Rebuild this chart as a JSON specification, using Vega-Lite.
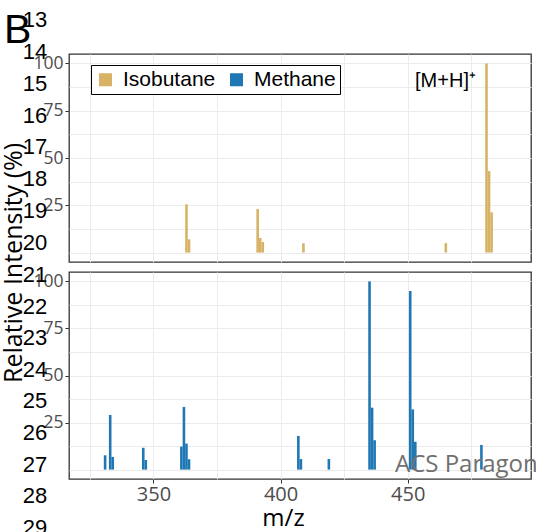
{
  "$schema": "https://vega.github.io/schema/vega-lite/v6.json",
  "autosize": "none",
  "padding": {"left": 69, "top": 54, "right": 467, "bottom": 478},
  "background": "white",
  "bounds": "flush",
  "spacing": 10,
  "datasets": {
    "spectra": [
      {"gas": "Isobutane", "mz": 363, "intensity": 25.5},
      {"gas": "Isobutane", "mz": 364, "intensity": 7.0},
      {"gas": "Isobutane", "mz": 391, "intensity": 23.0},
      {"gas": "Isobutane", "mz": 392, "intensity": 7.7},
      {"gas": "Isobutane", "mz": 393, "intensity": 5.6},
      {"gas": "Isobutane", "mz": 409, "intensity": 4.9},
      {"gas": "Isobutane", "mz": 465, "intensity": 5.0},
      {"gas": "Isobutane", "mz": 481, "intensity": 100},
      {"gas": "Isobutane", "mz": 482, "intensity": 43.1},
      {"gas": "Isobutane", "mz": 483, "intensity": 21.3},
      {"gas": "Methane", "mz": 331, "intensity": 7.6},
      {"gas": "Methane", "mz": 333, "intensity": 29.0},
      {"gas": "Methane", "mz": 334, "intensity": 6.7},
      {"gas": "Methane", "mz": 346, "intensity": 11.6},
      {"gas": "Methane", "mz": 347, "intensity": 5.1},
      {"gas": "Methane", "mz": 361, "intensity": 12.2},
      {"gas": "Methane", "mz": 362, "intensity": 33.3},
      {"gas": "Methane", "mz": 363, "intensity": 13.8},
      {"gas": "Methane", "mz": 364, "intensity": 5.5},
      {"gas": "Methane", "mz": 407, "intensity": 17.9},
      {"gas": "Methane", "mz": 408, "intensity": 5.6},
      {"gas": "Methane", "mz": 419, "intensity": 5.6},
      {"gas": "Methane", "mz": 435, "intensity": 100},
      {"gas": "Methane", "mz": 436, "intensity": 32.9},
      {"gas": "Methane", "mz": 437, "intensity": 15.6},
      {"gas": "Methane", "mz": 451, "intensity": 94.9},
      {"gas": "Methane", "mz": 452, "intensity": 32.0},
      {"gas": "Methane", "mz": 453, "intensity": 14.8},
      {"gas": "Methane", "mz": 479, "intensity": 13.1}
    ],
    "linesTop": [
      {"line": 13}, {"line": 14}, {"line": 15}, {"line": 16},
      {"line": 17}, {"line": 18}, {"line": 19}, {"line": 20}
    ],
    "linesBottom": [
      {"line": 21}, {"line": 22}, {"line": 23}, {"line": 24}, {"line": 25},
      {"line": 26}, {"line": 27}, {"line": 28}, {"line": 29}
    ],
    "panelLabel": [{"label": "B"}],
    "ionLabel": [{"label": "[M+H]⁺"}],
    "watermark": [{"label": "ACS Paragon"}]
  },
  "vconcat": [
    {
      "width": 462,
      "height": 208,
      "resolve": {"scale": {"y": "independent"}},
      "layer": [
        {
          "data": {"name": "spectra"},
          "transform": [{"filter": "datum.gas == 'Isobutane'"}],
          "mark": {"type": "bar", "orient": "vertical", "size": 2.6},
          "encoding": {
            "x": {
              "field": "mz", "type": "quantitative",
              "scale": {"domain": [316.8, 498.5], "nice": false, "zero": false, "padding": 0},
              "axis": {"values": [325, 350, 375, 400, 425, 450, 475], "labels": false, "ticks": false, "title": null}
            },
            "y": {
              "field": "intensity", "type": "quantitative",
              "scale": {"domain": [-5, 105], "nice": false, "zero": false, "padding": 0},
              "axis": {
                "values": [0, 12.5, 25, 37.5, 50, 62.5, 75, 87.5, 100],
                "labelExpr": "datum.value > 0 && datum.value % 25 == 0 ? datum.label : ''",
                "tickOpacity": {"condition": {"test": "datum.value > 0 && datum.value % 25 == 0", "value": 1}, "value": 0},
                "labelFontSize": 17.5,
                "labelPadding": 2,
                "title": "Relative Intensity (%)",
                "titleFontSize": 25,
                "titleAngle": -90,
                "titleAlign": "center",
                "titleBaseline": "middle",
                "titleX": -56,
                "titleY": 208.5
              }
            },
            "color": {
              "field": "gas", "type": "nominal",
              "scale": {"domain": ["Isobutane", "Methane"], "range": ["#D8B365", "#1F78B4"]},
              "legend": {
                "title": null, "orient": "none", "legendX": 22, "legendY": 11,
                "direction": "horizontal", "symbolType": "square", "symbolSize": 170,
                "symbolStrokeWidth": 0, "symbolOpacity": 1,
                "labelFontSize": 21, "labelFont": "Liberation Sans", "labelColor": "black",
                "strokeColor": "black", "fillColor": "white", "padding": 4,
                "columnPadding": 10, "labelOffset": 7
              }
            }
          }
        },
        {
          "data": {"name": "ionLabel"},
          "mark": {"type": "text", "align": "left", "baseline": "alphabetic", "fontSize": 20, "font": "Liberation Sans", "color": "black"},
          "encoding": {
            "x": {"datum": 452.9, "type": "quantitative", "scale": {"domain": [316.8, 498.5], "nice": false, "zero": false, "padding": 0}},
            "y": {"datum": 87.5, "type": "quantitative", "scale": {"domain": [-5, 105], "nice": false, "zero": false}, "axis": null},
            "text": {"field": "label", "type": "nominal"}
          }
        },
        {
          "data": {"name": "linesTop"},
          "mark": {"type": "text", "align": "left", "baseline": "middle", "fontSize": 22, "font": "Liberation Sans", "color": "black"},
          "encoding": {
            "x": {"datum": 298.6, "type": "quantitative", "scale": {"domain": [316.8, 498.5], "nice": false, "zero": false, "padding": 0}},
            "y": {"field": "line", "type": "quantitative", "scale": {"domain": [14.067, 20.596], "reverse": true, "nice": false, "zero": false}, "axis": null},
            "text": {"field": "line", "type": "quantitative", "format": "d"}
          }
        },
        {
          "data": {"name": "panelLabel"},
          "mark": {"type": "text", "align": "left", "baseline": "alphabetic", "fontSize": 41, "font": "Liberation Sans", "color": "black"},
          "encoding": {
            "x": {"datum": 291.2, "type": "quantitative", "scale": {"domain": [316.8, 498.5], "nice": false, "zero": false, "padding": 0}},
            "y": {"datum": 110.6, "type": "quantitative", "scale": {"domain": [-5, 105], "nice": false, "zero": false}, "axis": null},
            "text": {"field": "label", "type": "nominal"}
          }
        }
      ]
    },
    {
      "width": 462,
      "height": 207,
      "resolve": {"scale": {"y": "independent"}},
      "layer": [
        {
          "data": {"name": "spectra"},
          "transform": [{"filter": "datum.gas == 'Methane'"}],
          "mark": {"type": "bar", "orient": "vertical", "size": 2.6},
          "encoding": {
            "x": {
              "field": "mz", "type": "quantitative",
              "scale": {"domain": [316.8, 498.5], "nice": false, "zero": false, "padding": 0},
              "axis": {
                "values": [325, 350, 375, 400, 425, 450, 475],
                "labelExpr": "datum.value % 50 == 0 ? datum.label : ''",
                "tickOpacity": {"condition": {"test": "datum.value % 50 == 0", "value": 1}, "value": 0},
                "labelFontSize": 20,
                "labelPadding": 1,
                "title": "m/z",
                "titleFontSize": 24,
                "titleAlign": "center",
                "titleBaseline": "alphabetic",
                "titleX": 214,
                "titleY": 46
              }
            },
            "y": {
              "field": "intensity", "type": "quantitative",
              "scale": {"domain": [-5, 105], "nice": false, "zero": false, "padding": 0},
              "axis": {
                "values": [0, 12.5, 25, 37.5, 50, 62.5, 75, 87.5, 100],
                "labelExpr": "datum.value > 0 && datum.value % 25 == 0 ? datum.label : ''",
                "tickOpacity": {"condition": {"test": "datum.value > 0 && datum.value % 25 == 0", "value": 1}, "value": 0},
                "labelFontSize": 17.5,
                "labelPadding": 2,
                "title": null
              }
            },
            "color": {
              "field": "gas", "type": "nominal",
              "scale": {"domain": ["Isobutane", "Methane"], "range": ["#D8B365", "#1F78B4"]},
              "legend": null
            }
          }
        },
        {
          "data": {"name": "watermark"},
          "mark": {"type": "text", "align": "left", "baseline": "alphabetic", "fontSize": 24, "font": "Open Sans", "color": "#707070"},
          "encoding": {
            "x": {"datum": 445, "type": "quantitative", "scale": {"domain": [316.8, 498.5], "nice": false, "zero": false, "padding": 0}},
            "y": {"datum": -1.3, "type": "quantitative", "scale": {"domain": [-5, 105], "nice": false, "zero": false}, "axis": null},
            "text": {"field": "label", "type": "nominal"}
          }
        },
        {
          "data": {"name": "linesBottom"},
          "mark": {"type": "text", "align": "left", "baseline": "middle", "fontSize": 22, "font": "Liberation Sans", "color": "black"},
          "encoding": {
            "x": {"datum": 298.6, "type": "quantitative", "scale": {"domain": [316.8, 498.5], "nice": false, "zero": false, "padding": 0}},
            "y": {"field": "line", "type": "quantitative", "scale": {"domain": [20.905, 27.456], "reverse": true, "nice": false, "zero": false}, "axis": null},
            "text": {"field": "line", "type": "quantitative", "format": "d"}
          }
        }
      ]
    }
  ],
  "resolve": {"legend": {"color": "independent"}, "scale": {"color": "shared"}},
  "config": {
    "view": {"stroke": "#333333", "strokeWidth": 1.3},
    "axis": {
      "domain": false,
      "grid": true,
      "gridColor": "#EBEBEB",
      "gridWidth": 1,
      "tickColor": "#333333",
      "tickSize": 4,
      "tickWidth": 1,
      "labelColor": "#4D4D4D",
      "labelFont": "Open Sans",
      "titleFont": "Open Sans",
      "titleColor": "black",
      "titleFontWeight": "normal",
      "labelFlush": false,
      "labelOverlap": false
    }
  }
}
